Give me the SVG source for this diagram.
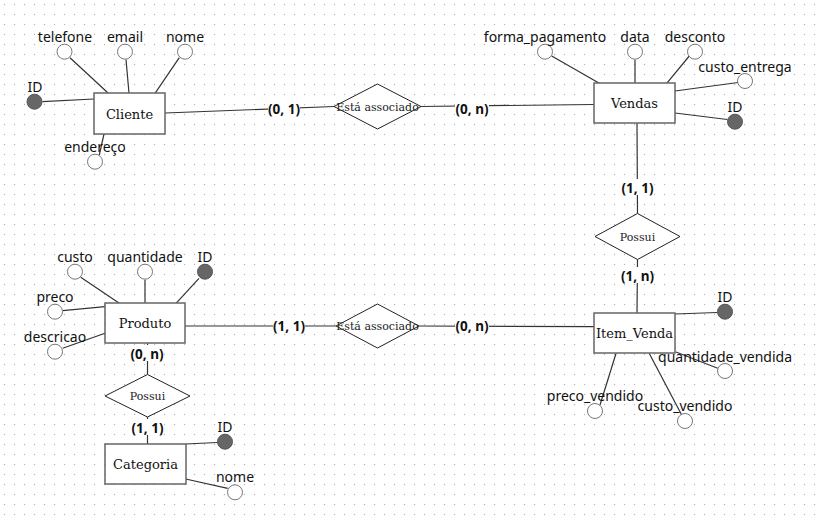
<svg xmlns="http://www.w3.org/2000/svg" width="821" height="523" viewBox="0 0 821 523">
<defs>
<pattern id="grid" width="10" height="10" patternUnits="userSpaceOnUse">
<circle cx="4.5" cy="4.5" r="0.7" fill="#b4b4b4"/>
</pattern>
<style>
.ent rect{fill:#fff;stroke:#666;stroke-width:1.5}
.ent text{font-family:"DejaVu Serif","Liberation Serif",serif;font-size:13px;fill:#111;text-anchor:middle}
.rel polygon{fill:#fff;stroke:#222;stroke-width:1}
.rel text{font-family:"DejaVu Serif","Liberation Serif",serif;font-size:11px;fill:#222;text-anchor:middle}
.att circle{fill:#fff;stroke:#777;stroke-width:1}
.att circle.key{fill:#666;stroke:#555}
.att text{font-family:"Noto Sans","DejaVu Sans",sans-serif;font-size:14px;fill:#111;text-anchor:middle}
.con line{stroke:#333;stroke-width:1.2}
.card rect{fill:#fff}
.card text{font-family:"Noto Sans","DejaVu Sans",sans-serif;font-size:13.5px;font-weight:bold;fill:#111;text-anchor:middle}
</style>
</defs>
<rect width="821" height="523" fill="#fff"/>
<rect width="821" height="523" fill="url(#grid)"/>

<g id="connectors" class="con">
<!-- Cliente attributes -->
<line x1="70" y1="57.7" x2="108.3" y2="93.3"/>
<line x1="126" y1="59.5" x2="129" y2="93.3"/>
<line x1="179.3" y1="57.7" x2="155" y2="93.3"/>
<line x1="42.5" y1="101.7" x2="94" y2="99"/>
<line x1="104" y1="134" x2="99.3" y2="155"/>
<!-- Vendas attributes -->
<line x1="551.7" y1="56" x2="599.3" y2="83.3"/>
<line x1="635" y1="59.7" x2="635" y2="83.3"/>
<line x1="689.3" y1="56" x2="666.7" y2="83.3"/>
<line x1="738" y1="82.5" x2="675" y2="91"/>
<line x1="727.3" y1="119.5" x2="675" y2="113"/>
<!-- Produto attributes -->
<line x1="80.7" y1="277.3" x2="119.3" y2="303.3"/>
<line x1="145" y1="279.7" x2="145" y2="303.3"/>
<line x1="199" y1="278.3" x2="176" y2="303.3"/>
<line x1="62.7" y1="310.7" x2="105" y2="306.7"/>
<line x1="62.7" y1="348.3" x2="105" y2="333.3"/>
<!-- Categoria attributes -->
<line x1="185.7" y1="444" x2="217.3" y2="442.5"/>
<line x1="185.7" y1="479" x2="227.7" y2="488.3"/>
<!-- Item_Venda attributes -->
<line x1="675" y1="314" x2="717.3" y2="312.5"/>
<line x1="676" y1="352" x2="717.7" y2="368.3"/>
<line x1="616" y1="353.5" x2="600" y2="405"/>
<line x1="649.3" y1="353.5" x2="681.7" y2="415"/>
<!-- relationships -->
<line x1="165" y1="113" x2="334" y2="106.5"/>
<line x1="421" y1="106.5" x2="594" y2="104.5"/>
<line x1="637" y1="123.3" x2="637.5" y2="213.5"/>
<line x1="637.5" y1="259.5" x2="637" y2="313.3"/>
<line x1="185" y1="326" x2="336" y2="326"/>
<line x1="419" y1="326" x2="594" y2="326.7"/>
<line x1="147.5" y1="343.3" x2="147.5" y2="374.5"/>
<line x1="147.5" y1="417" x2="147.5" y2="444"/>
</g>

<g id="cardinalities" class="card">
<rect x="268" y="100" width="32" height="16"/><text x="284" y="114">(0, 1)</text>
<rect x="455" y="100" width="34" height="16"/><text x="472" y="114">(0, n)</text>
<rect x="621" y="179" width="33" height="16"/><text x="637.5" y="193">(1, 1)</text>
<rect x="621" y="267" width="33" height="16"/><text x="637.5" y="281">(1, n)</text>
<rect x="273" y="317" width="32" height="16"/><text x="289" y="331">(1, 1)</text>
<rect x="455" y="317" width="34" height="16"/><text x="472" y="331">(0, n)</text>
<rect x="130" y="345" width="34" height="16"/><text x="147" y="359">(0, n)</text>
<rect x="131" y="419" width="33" height="16"/><text x="147.5" y="433">(1, 1)</text>
</g>

<g id="Cliente" class="ent"><rect x="94" y="93" width="71" height="41"/><text x="129.5" y="118.5">Cliente</text></g>
<g id="Vendas" class="ent"><rect x="594" y="83" width="81" height="40"/><text x="634.5" y="108">Vendas</text></g>
<g id="Produto" class="ent"><rect x="105" y="303" width="80" height="40"/><text x="145" y="328">Produto</text></g>
<g id="Categoria" class="ent"><rect x="105" y="444" width="81" height="40"/><text x="145.5" y="469">Categoria</text></g>
<g id="Item_Venda" class="ent"><rect x="594" y="313" width="81" height="40"/><text x="634.5" y="338">Item_Venda</text></g>

<g id="rel_cliente_vendas" class="rel"><polygon points="377.5,84 421,106.5 377.5,129 334,106.5"/><text x="377.5" y="110.5">Está associado</text></g>
<g id="rel_vendas_item" class="rel"><polygon points="637.5,213.5 680,236.5 637.5,259.5 595,236.5"/><text x="637.5" y="240.5">Possui</text></g>
<g id="rel_produto_item" class="rel"><polygon points="377.5,304 419,326 377.5,348 336,326"/><text x="377.5" y="330">Está associado</text></g>
<g id="rel_produto_categoria" class="rel"><polygon points="147.5,374.5 190,396 147.5,417 105,396"/><text x="147.5" y="400">Possui</text></g>

<g id="cliente_telefone" class="att"><circle cx="64.5" cy="51.7" r="7.5"/><text x="65" y="42">telefone</text></g>
<g id="cliente_email" class="att"><circle cx="125" cy="51.7" r="7.5"/><text x="125" y="42">email</text></g>
<g id="cliente_nome" class="att"><circle cx="185" cy="51.7" r="7.5"/><text x="185" y="42">nome</text></g>
<g id="cliente_id" class="att"><circle class="key" cx="34.5" cy="101.7" r="7.5"/><text x="35" y="92">ID</text></g>
<g id="cliente_endereco" class="att"><circle cx="95" cy="161.7" r="7.5"/><text x="95" y="152">endereço</text></g>

<g id="vendas_forma_pagamento" class="att"><circle cx="545" cy="51.7" r="7.5"/><text x="545" y="42">forma_pagamento</text></g>
<g id="vendas_data" class="att"><circle cx="635" cy="51.7" r="7.5"/><text x="635" y="42">data</text></g>
<g id="vendas_desconto" class="att"><circle cx="695" cy="51.7" r="7.5"/><text x="695" y="42">desconto</text></g>
<g id="vendas_custo_entrega" class="att"><circle cx="745" cy="81" r="7.5"/><text x="745" y="71.5">custo_entrega</text></g>
<g id="vendas_id" class="att"><circle class="key" cx="735" cy="121.7" r="7.5"/><text x="735" y="112">ID</text></g>

<g id="produto_custo" class="att"><circle cx="75" cy="271.7" r="7.5"/><text x="75" y="262">custo</text></g>
<g id="produto_quantidade" class="att"><circle cx="145" cy="271.7" r="7.5"/><text x="145" y="262">quantidade</text></g>
<g id="produto_id" class="att"><circle class="key" cx="205" cy="271.7" r="7.5"/><text x="205" y="262">ID</text></g>
<g id="produto_preco" class="att"><circle cx="55" cy="311.7" r="7.5"/><text x="55" y="302">preco</text></g>
<g id="produto_descricao" class="att"><circle cx="55" cy="351.7" r="7.5"/><text x="55" y="342">descricao</text></g>

<g id="categoria_id" class="att"><circle class="key" cx="225" cy="441.7" r="7.5"/><text x="225" y="432">ID</text></g>
<g id="categoria_nome" class="att"><circle cx="235" cy="492.3" r="7.5"/><text x="235" y="482">nome</text></g>

<g id="item_id" class="att"><circle class="key" cx="725" cy="311.7" r="7.5"/><text x="725" y="302">ID</text></g>
<g id="item_quantidade_vendida" class="att"><circle cx="725" cy="371" r="7.5"/><text x="725" y="361.5">quantidade_vendida</text></g>
<g id="item_preco_vendido" class="att"><circle cx="595" cy="411" r="7.5"/><text x="595" y="401">preco_vendido</text></g>
<g id="item_custo_vendido" class="att"><circle cx="685" cy="421" r="7.5"/><text x="685" y="411">custo_vendido</text></g>
</svg>
